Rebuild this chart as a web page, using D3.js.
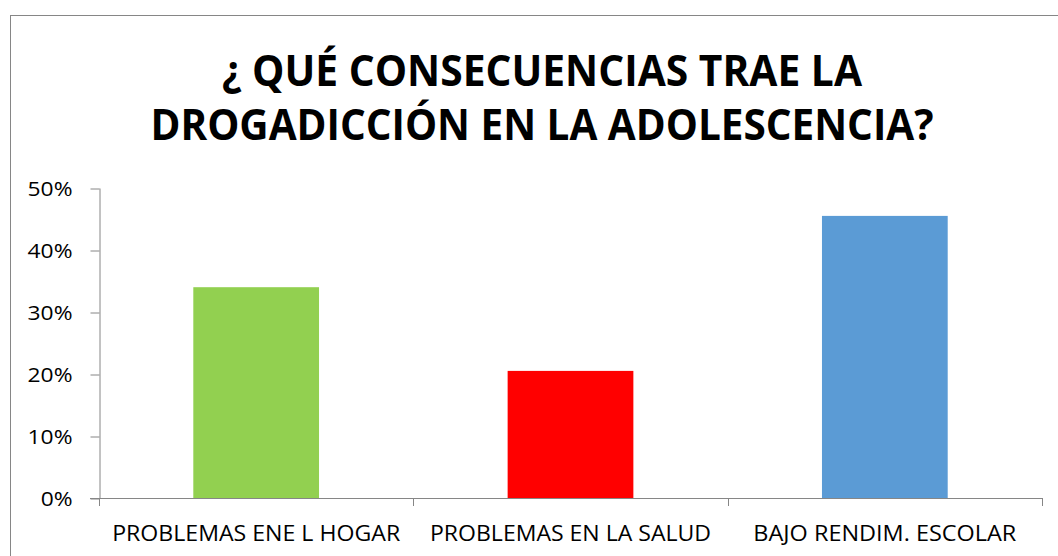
<!DOCTYPE html>
<html>
<head>
<meta charset="utf-8">
<script src="https://cdn.jsdelivr.net/npm/d3@7"></script>
<style>
  body { margin: 0; background: #fff; }
  svg { display: block; }
</style>
</head>
<body>
<div id="chart"></div>
<script>
// chart data
const categories = ["PROBLEMAS ENE L HOGAR", "PROBLEMAS EN LA SALUD", "BAJO RENDIM. ESCOLAR"];
const values = [0.34, 0.205, 0.455];
const barColors = ["#92D050", "#FF0000", "#5B9BD5"];
const yTicks = [0, 0.1, 0.2, 0.3, 0.4, 0.5];
const titleLines = ["¿ QUÉ CONSECUENCIAS TRAE LA", "DROGADICCIÓN EN LA ADOLESCENCIA?"];

const width = 1058, height = 556;
const font = "'Open Sans', 'Noto Sans', sans-serif";
const axisColor = "#868686";

const svg = d3.select("#chart")
    .append("svg")
    .attr("width", width)
    .attr("height", height);

// chart area border (right/bottom run off the picture)
svg.append("rect")
    .attr("x", 10.5)
    .attr("y", 15.5)
    .attr("width", width)
    .attr("height", height)
    .attr("fill", "#fff")
    .attr("stroke", axisColor)
    .attr("stroke-width", 1);

// title
const titleWidths = [640, 783];
svg.append("g")
    .selectAll("text")
    .data(titleLines)
    .enter()
    .append("text")
    .attr("x", 542)
    .attr("y", (d, i) => 86 + i * 54)
    .attr("text-anchor", "middle")
    .attr("font-family", font)
    .attr("font-weight", "bold")
    .attr("font-size", "43px")
    .attr("fill", "#000")
    .attr("textLength", (d, i) => titleWidths[i])
    .attr("lengthAdjust", "spacingAndGlyphs")
    .text(d => d);

// scales
const plot = { left: 99, right: 1042, top: 188, bottom: 498 };

const x = d3.scaleBand()
    .domain(categories)
    .range([plot.left, plot.right])
    .paddingInner(0.6)
    .paddingOuter(0.3);

const y = d3.scaleLinear()
    .domain([0, 0.5])
    .range([plot.bottom, plot.top]);

// bars
svg.append("g")
    .selectAll("rect")
    .data(values)
    .enter()
    .append("rect")
    .attr("x", (d, i) => x(categories[i]))
    .attr("y", d => y(d))
    .attr("width", x.bandwidth())
    .attr("height", d => y(0) - y(d))
    .attr("fill", (d, i) => barColors[i]);

// y axis
const yAxis = svg.append("g")
    .attr("transform", "translate(" + (plot.left + 0.5) + ",0)")
    .call(d3.axisLeft(y)
        .tickValues(yTicks)
        .tickFormat(d3.format(".0%"))
        .tickSizeInner(9)
        .tickSizeOuter(0)
        .tickPadding(18));

yAxis.select(".domain").attr("stroke", axisColor);
yAxis.selectAll(".tick line")
    .attr("stroke", axisColor)
    .attr("transform", "translate(0,0.5)");
yAxis.selectAll(".tick text")
    .attr("font-family", font)
    .attr("font-size", "20px")
    .attr("fill", "#000")
    .attr("dy", "0.36em")
    .each(function() {
        // Calibri digits run wider than Open Sans, stretch a bit
        const w = this.getComputedTextLength();
        d3.select(this)
            .attr("textLength", w * 1.14)
            .attr("lengthAdjust", "spacingAndGlyphs");
    });

// x axis
const labelWidths = [288, 281, 263];
const xAxis = svg.append("g")
    .attr("transform", "translate(0," + (plot.bottom + 0.5) + ")")
    .call(d3.axisBottom(x).tickSize(0).tickPadding(27));

xAxis.select(".domain")
    .attr("stroke", axisColor)
    .attr("d", "M" + (plot.left - 9) + ",0H" + plot.right);
xAxis.selectAll(".tick text")
    .attr("font-family", font)
    .attr("font-size", "22px")
    .attr("fill", "#000")
    .attr("textLength", (d, i) => labelWidths[i])
    .attr("lengthAdjust", "spacingAndGlyphs");

// category separators below the axis
const step = x.step();
const sepX = d3.range(categories.length + 1).map(i => plot.left + i * step);
svg.append("g")
    .selectAll("line")
    .data(sepX)
    .enter()
    .append("line")
    .attr("x1", d => Math.round(d) + 0.5)
    .attr("x2", d => Math.round(d) + 0.5)
    .attr("y1", plot.bottom)
    .attr("y2", plot.bottom + 8)
    .attr("stroke", axisColor);
</script>
</body>
</html>
